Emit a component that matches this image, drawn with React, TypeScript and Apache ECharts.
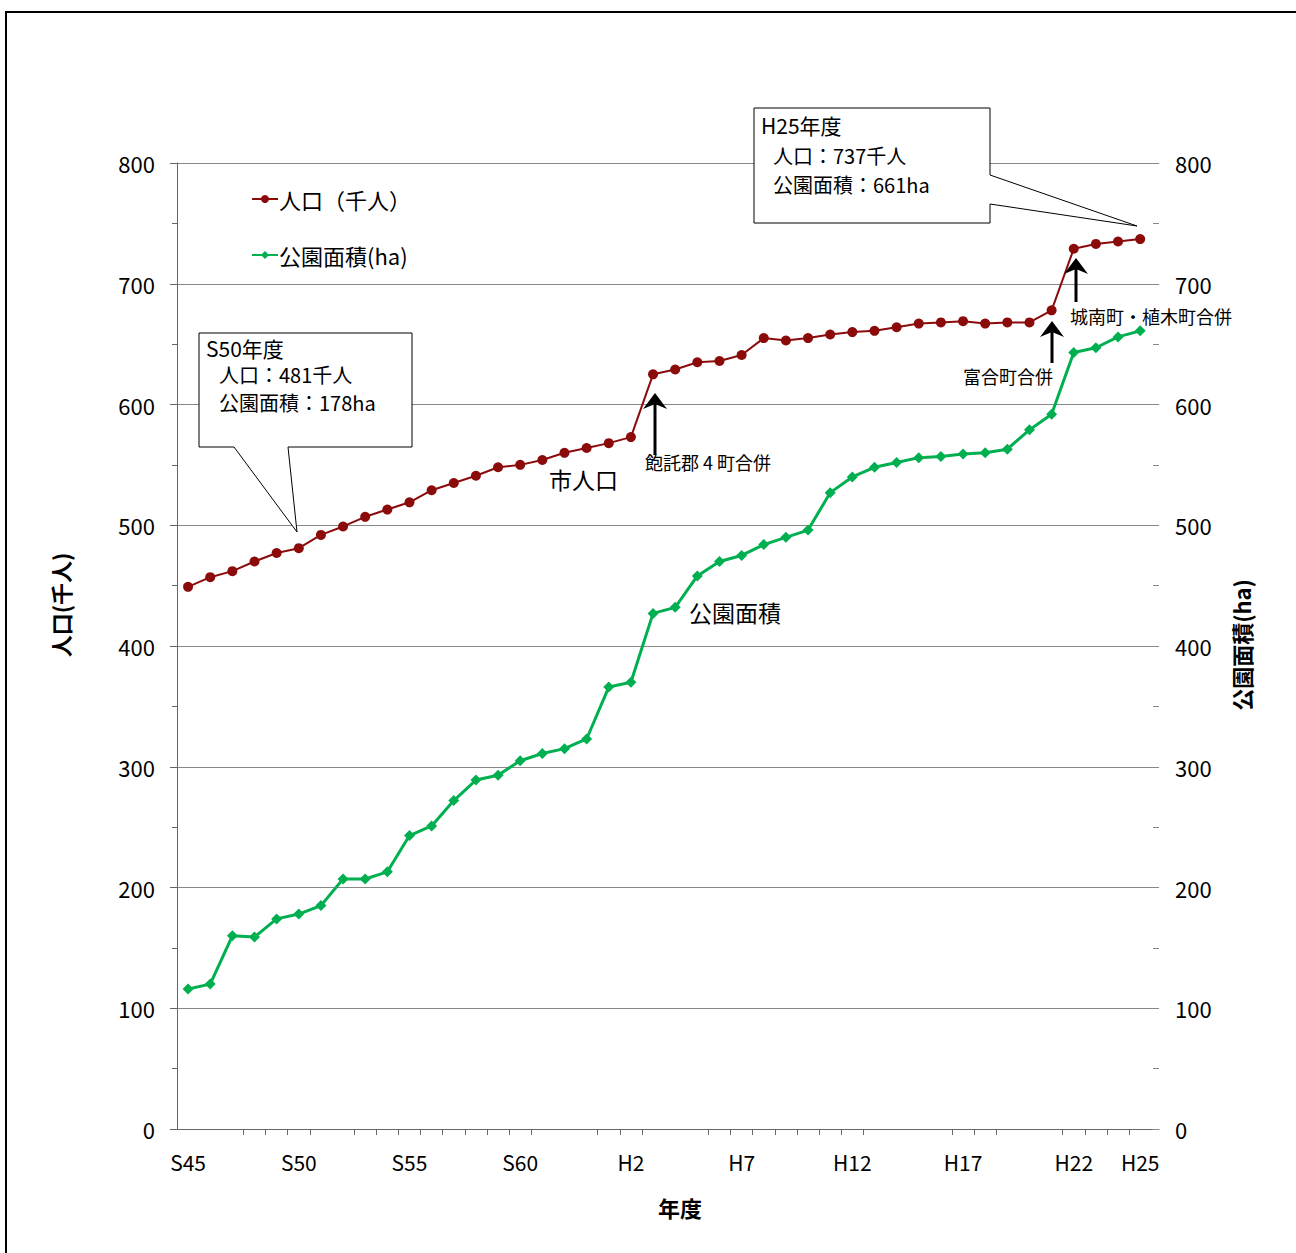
import React, { useEffect, useRef } from "react";
import * as echarts from "echarts";

const categories = [
  "S45", "S46", "S47", "S48", "S49", "S50", "S51", "S52", "S53", "S54",
  "S55", "S56", "S57", "S58", "S59", "S60", "S61", "S62", "S63",
  "H1", "H2", "H3", "H4", "H5", "H6", "H7", "H8", "H9", "H10",
  "H11", "H12", "H13", "H14", "H15", "H16", "H17", "H18", "H19", "H20",
  "H21", "H22", "H23", "H24", "H25",
];

const population = [
  449, 457, 462, 470, 477, 481, 492, 499, 507, 513,
  519, 529, 535, 541, 548, 550, 554, 560, 564,
  568, 573, 625, 629, 635, 636, 641, 655, 653, 655,
  658, 660, 661, 664, 667, 668, 669, 667, 668, 668,
  678, 729, 733, 735, 737,
];

const parkArea = [
  116, 120, 160, 159, 174, 178, 185, 207, 207, 213,
  243, 251, 272, 289, 293, 305, 311, 315, 323,
  366, 370, 427, 432, 458, 470, 475, 484, 490, 496,
  527, 540, 548, 552, 556, 557, 559, 560, 563, 579,
  592, 643, 647, 656, 661,
];

const labelIndices = [0, 5, 10, 15, 20, 25, 30, 35, 40, 43];
const tickBoundaries = [3, 4, 5, 6, 8, 9, 10, 11, 12, 13, 14, 15, 16, 19, 20, 21, 24, 25, 26, 27, 28, 29, 30, 31, 35, 36, 37, 40, 41, 42, 43];

const FONT = "'Noto Sans CJK JP', 'Noto Sans', sans-serif";
const RED = "#8B0A0A";
const GREEN = "#00B050";

function arrow(x: number, tipY: number, bottomY: number) {
  return [
    { type: "line", shape: { x1: x, y1: tipY + 8, x2: x, y2: bottomY }, style: { stroke: "#000", lineWidth: 3 }, z: 20 },
    {
      type: "polygon",
      shape: { points: [[x, tipY], [x + 12, tipY + 16], [x, tipY + 11], [x - 12, tipY + 16]] },
      style: { fill: "#000" },
      z: 20,
    },
  ];
}

function txt(x: number, y: number, text: string, size: number, extra: any = {}) {
  return {
    type: "text",
    x,
    y,
    z: 30,
    style: { text, fontSize: size, lineHeight: size, fontFamily: FONT, fill: "#000", textVerticalAlign: "middle", ...extra },
  };
}

export default function App() {
  const ref = useRef<HTMLDivElement>(null);
  useEffect(() => {
    document.body.style.margin = "0";
    const chart = echarts.init(ref.current!, null, { renderer: "svg" });
    const option: any = {
      animation: false,
      backgroundColor: "#fff",
      textStyle: { fontFamily: FONT },
      grid: { left: 177, top: 163, width: 982, height: 966 },
      legend: {
        orient: "vertical",
        left: 246,
        top: 182,
        itemGap: 32,
        itemWidth: 26,
        itemHeight: 10,
        textStyle: { fontSize: 22, color: "#000", fontFamily: FONT, lineHeight: 24, padding: [0, 0, 0, -4] },
        data: ["人口（千人）", "公園面積(ha)"],
      },
      xAxis: {
        type: "value",
        min: -0.5,
        max: 43.85,
        axisLine: { show: true, onZero: false, lineStyle: { color: "#666", width: 1 } },
        axisTick: { show: true, length: 6, lineStyle: { color: "#666" }, customValues: tickBoundaries.map((k) => k - 0.5) },
        axisLabel: {
          customValues: labelIndices,
          formatter: (v: number) => categories[Math.round(v)] ?? "",
          fontSize: 21,
          color: "#000",
          margin: 22,
          fontFamily: FONT,
        },
        splitLine: { show: false },
      },
      yAxis: [
        {
          type: "value",
          min: 0,
          max: 800,
          interval: 100,
          position: "left",
          axisLine: { show: true, onZero: false, lineStyle: { color: "#666" } },
          axisTick: { show: true, length: 7, lineStyle: { color: "#666" } },
          minorTick: { show: true, splitNumber: 2, length: 5, lineStyle: { color: "#666" } },
          axisLabel: { fontSize: 22, color: "#000", margin: 22, fontFamily: FONT },
          splitLine: { show: true, lineStyle: { color: "#888", width: 1 } },
        },
        {
          type: "value",
          min: 0,
          max: 800,
          interval: 100,
          position: "right",
          axisLine: { show: false, onZero: false },
          axisTick: { show: true, inside: true, length: 7, lineStyle: { color: "#888" } },
          minorTick: { show: true, splitNumber: 2, length: 6, lineStyle: { color: "#888" } },
          axisLabel: { fontSize: 22, color: "#000", margin: 16, fontFamily: FONT },
          splitLine: { show: false },
        },
      ],
      series: [
        {
          name: "人口（千人）",
          type: "line",
          yAxisIndex: 0,
          data: population.map((v, i) => [i, v]),
          symbol: "circle",
          symbolSize: 10,
          color: RED,
          lineStyle: { width: 2, color: RED },
          itemStyle: { color: RED },
          z: 5,
        },
        {
          name: "公園面積(ha)",
          type: "line",
          yAxisIndex: 1,
          data: parkArea.map((v, i) => [i, v]),
          symbol: "diamond",
          symbolSize: 11,
          color: GREEN,
          lineStyle: { width: 3, color: GREEN },
          itemStyle: { color: GREEN },
          z: 4,
        },
      ],
      graphic: [
        {
          type: "polyline",
          shape: { points: [[6, 1260], [6, 12], [1300, 12]] },
          style: { stroke: "#000", lineWidth: 2, fill: null },
          z: 1,
        },
        {
          type: "polygon",
          shape: { points: [[199, 333], [412, 333], [412, 447], [288, 447], [297, 532], [234, 447], [199, 447]] },
          style: { fill: "#fff", stroke: "#000", lineWidth: 1 },
          z: 15,
        },
        {
          type: "polygon",
          shape: { points: [[754, 108], [990, 108], [990, 175], [1137, 226], [990, 204], [990, 223], [754, 223]] },
          style: { fill: "#fff", stroke: "#000", lineWidth: 1 },
          z: 15,
        },
        txt(206, 348, "S50年度", 21),
        txt(219, 374, "人口：481千人", 20),
        txt(219, 402, "公園面積：178ha", 20),
        txt(761, 125, "H25年度", 21),
        txt(773, 155, "人口：737千人", 20),
        txt(773, 184, "公園面積：661ha", 20),
        txt(549, 479, "市人口", 23),
        txt(689, 612, "公園面積", 23),
        ...arrow(655, 393, 455),
        txt(645, 462, "飽託郡 4 町合併", 18),
        ...arrow(1052, 321, 363),
        txt(963, 376, "富合町合併", 18),
        ...arrow(1076, 258, 302),
        txt(1070, 316, "城南町・植木町合併", 18),
        {
          type: "text",
          x: 60,
          y: 605,
          rotation: Math.PI / 2,
          z: 30,
          style: { text: "人口(千人)", fontSize: 22, fontWeight: "bold", fontFamily: FONT, fill: "#000", textAlign: "center", textVerticalAlign: "middle" },
        },
        {
          type: "text",
          x: 1241,
          y: 645,
          rotation: Math.PI / 2,
          z: 30,
          style: { text: "公園面積(ha)", fontSize: 22, fontWeight: "bold", fontFamily: FONT, fill: "#000", textAlign: "center", textVerticalAlign: "middle" },
        },
        {
          type: "text",
          x: 680,
          y: 1207,
          z: 30,
          style: { text: "年度", fontSize: 22, fontWeight: "bold", fontFamily: FONT, fill: "#000", textAlign: "center", textVerticalAlign: "middle" },
        },
      ],
    };
    chart.setOption(option);
    return () => chart.dispose();
  }, []);
  return <div ref={ref} style={{ width: 1296, height: 1253 }} />;
}
